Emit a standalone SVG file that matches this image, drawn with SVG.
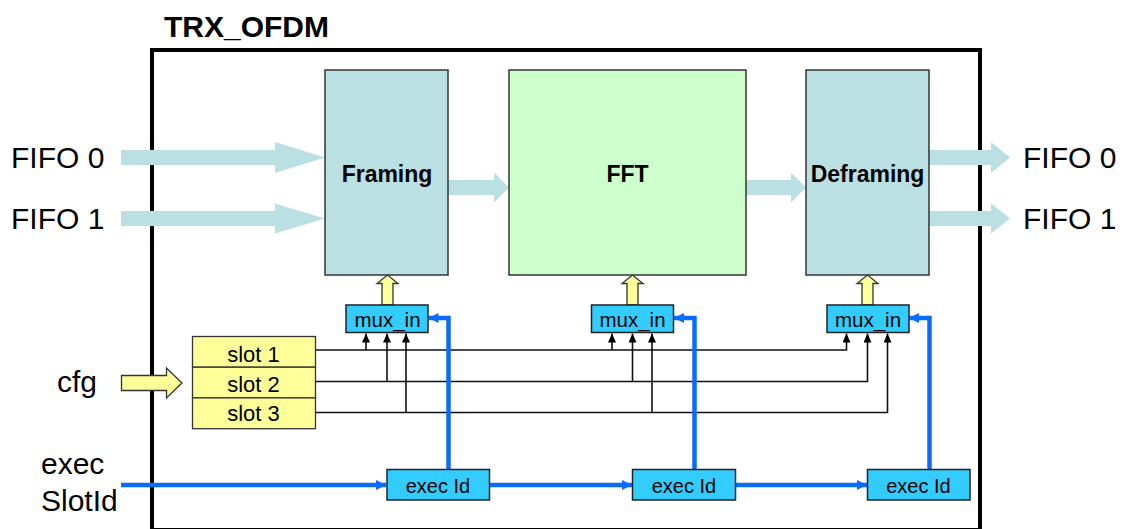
<svg xmlns="http://www.w3.org/2000/svg" width="1129" height="529" viewBox="0 0 1129 529">
<style>
text{font-family:"Liberation Sans",Arial,sans-serif;fill:#000}
.big{font-size:30px}
.title{font-size:30px;font-weight:bold}
.blk{font-size:23px;font-weight:bold}
.sm{font-size:20.5px}
.ex{font-size:20px}
.slot{font-size:22px}
.frame{fill:none;stroke:#000;stroke-width:4}
.teal{fill:#BBE0E3;stroke:#333;stroke-width:1.5}
.green{fill:#CCFFCC;stroke:#333;stroke-width:1.5}
.yel{fill:#FFFF99;stroke:#333;stroke-width:1.3}
.cyan{fill:#33CCFF;stroke:#222;stroke-width:1.5}
.flow{fill:#BBE0E3;stroke:none}
.wire{fill:none;stroke:#111;stroke-width:1.6}
.bl{fill:none;stroke:#0A6CFF;stroke-width:4.5}
</style>
<defs>
<marker id="bh" markerUnits="userSpaceOnUse" viewBox="0 0 10 10" refX="10" refY="5" markerWidth="10" markerHeight="10" orient="auto"><path d="M0,0 L10,5 L0,10 Z" fill="#0A6CFF"/></marker>
<marker id="kh" markerUnits="userSpaceOnUse" viewBox="0 0 9 8" refX="9" refY="4" markerWidth="9" markerHeight="8" orient="auto"><path d="M0,0 L9,4 L0,8 Z" fill="#000"/></marker>
</defs>

<g id="frame">
<rect class="frame" x="152" y="50" width="828" height="480"/>
<text class="title" x="164" y="37">TRX_OFDM</text>
</g>

<g id="labels">
<text class="big" x="11" y="168">FIFO 0</text>
<text class="big" x="11" y="229">FIFO 1</text>
<text class="big" x="1023" y="168">FIFO 0</text>
<text class="big" x="1023" y="229">FIFO 1</text>
<text class="big" x="57" y="392">cfg</text>
<text class="big" x="41" y="474">exec</text>
<text class="big" x="41" y="511">SlotId</text>
</g>

<g id="connectors">
<polygon class="flow" points="121,150 275,150 275,142 325,157.5 275,173 275,165 121,165"/>
<polygon class="flow" points="121,211 275,211 275,203.5 325,218.5 275,233.5 275,226 121,226"/>
<polygon class="flow" points="448,180 494,180 494,172.5 509,187.5 494,202.5 494,195 448,195"/>
<polygon class="flow" points="746,180 791,180 791,172.5 806,187.5 791,202.5 791,195 746,195"/>
<polygon class="flow" points="929,150 991,150 991,142 1010,157.5 991,173 991,165 929,165"/>
<polygon class="flow" points="929,211 991,211 991,203.5 1010,218.5 991,233.5 991,226 929,226"/>
<polygon class="yel" points="121.5,375.5 166.5,375.5 166.5,368 182,383 166.5,398 166.5,390.5 121.5,390.5"/>
<polygon class="yel" points="382,305 382,283.5 377,283.5 387.5,275 398,283.5 393,283.5 393,305"/>
<polygon class="yel" points="627,305 627,283.5 622,283.5 632.5,275 643,283.5 638,283.5 638,305"/>
<polygon class="yel" points="862,305 862,283.5 857,283.5 867.5,275 878,283.5 873,283.5 873,305"/>
<polyline class="wire" points="316,350 846.5,350 846.5,333.5" marker-end="url(#kh)"/>
<polyline class="wire" points="316,381.5 867.5,381.5 867.5,333.5" marker-end="url(#kh)"/>
<polyline class="wire" points="316,412.5 887.5,412.5 887.5,333.5" marker-end="url(#kh)"/>
<line class="wire" x1="366" y1="350" x2="366" y2="333.5" marker-end="url(#kh)"/>
<line class="wire" x1="387" y1="381.5" x2="387" y2="333.5" marker-end="url(#kh)"/>
<line class="wire" x1="406" y1="412.5" x2="406" y2="333.5" marker-end="url(#kh)"/>
<line class="wire" x1="612" y1="350" x2="612" y2="333.5" marker-end="url(#kh)"/>
<line class="wire" x1="632.5" y1="381.5" x2="632.5" y2="333.5" marker-end="url(#kh)"/>
<line class="wire" x1="652" y1="412.5" x2="652" y2="333.5" marker-end="url(#kh)"/>
<line class="bl" x1="121" y1="485" x2="386" y2="485" marker-end="url(#bh)"/>
<line class="bl" x1="489.5" y1="485" x2="632" y2="485" marker-end="url(#bh)"/>
<line class="bl" x1="735.5" y1="485" x2="867" y2="485" marker-end="url(#bh)"/>
<polyline class="bl" points="448.5,469 448.5,318 428.5,318" marker-end="url(#bh)"/>
<polyline class="bl" points="694.5,469 694.5,318 674,318" marker-end="url(#bh)"/>
<polyline class="bl" points="929.5,469 929.5,318 909,318" marker-end="url(#bh)"/>
</g>

<g id="framing">
<rect class="teal" x="325" y="70" width="123" height="205"/>
<text class="blk" x="387" y="182" text-anchor="middle">Framing</text>
</g>
<g id="fft">
<rect class="green" x="509" y="70" width="237" height="205"/>
<text class="blk" x="627.5" y="182" text-anchor="middle">FFT</text>
</g>
<g id="deframing">
<rect class="teal" x="806" y="70" width="123" height="205"/>
<text class="blk" x="867.5" y="182" text-anchor="middle">Deframing</text>
</g>

<g id="mux1">
<rect class="cyan" x="346" y="305" width="82" height="27.5"/>
<text class="sm" x="387.5" y="327" text-anchor="middle">mux_in</text>
</g>
<g id="mux2">
<rect class="cyan" x="591.5" y="305" width="82" height="27.5"/>
<text class="sm" x="632.5" y="327" text-anchor="middle">mux_in</text>
</g>
<g id="mux3">
<rect class="cyan" x="827" y="305" width="82" height="27.5"/>
<text class="sm" x="868" y="327" text-anchor="middle">mux_in</text>
</g>

<g id="slots">
<rect class="yel" x="192.5" y="336.5" width="123" height="30.7"/>
<rect class="yel" x="192.5" y="367.2" width="123" height="30.7"/>
<rect class="yel" x="192.5" y="397.9" width="123" height="30.8"/>
<text class="slot" x="253.5" y="361.5" text-anchor="middle">slot 1</text>
<text class="slot" x="253.5" y="391.5" text-anchor="middle">slot 2</text>
<text class="slot" x="253.5" y="420.5" text-anchor="middle">slot 3</text>
</g>

<g id="exec1">
<rect class="cyan" x="387" y="469.5" width="102.5" height="30.5"/>
<text class="ex" x="438" y="493" text-anchor="middle">exec Id</text>
</g>
<g id="exec2">
<rect class="cyan" x="632.5" y="469.5" width="103" height="30.5"/>
<text class="ex" x="684" y="493" text-anchor="middle">exec Id</text>
</g>
<g id="exec3">
<rect class="cyan" x="867.5" y="469.5" width="102.5" height="30.5"/>
<text class="ex" x="918.5" y="493" text-anchor="middle">exec Id</text>
</g>
</svg>
